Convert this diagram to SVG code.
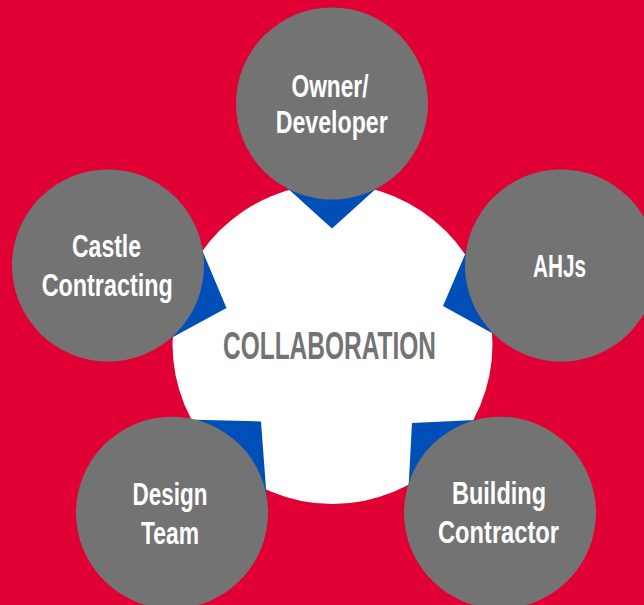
<svg xmlns="http://www.w3.org/2000/svg" xmlns:xlink="http://www.w3.org/1999/xlink" width="644" height="605" viewBox="0 0 644 605">
  <style>
    .bg { fill: #E00034; }
    .hub { fill: #FFFFFF; }
    .sat { fill: #737373; }
    .wedge { fill: #004EB8; }
    .lbl { font-family: "Liberation Sans Narrow", "Liberation Sans", Arial, sans-serif; font-weight: bold; text-anchor: middle; }
    .sat-lbl { fill: #FFFFFF; font-size: 30.5px; }
    .hub-lbl { fill: #737373; font-size: 39px; }
  </style>
  <defs>
    <!-- pointer: apex at origin pointing along +y, base tucked inside the satellite circle -->
    <polygon id="wedge" class="wedge" points="0,0 -63,-57 0,-125 63,-57"/>
  </defs>

  <rect class="bg" x="0" y="0" width="644" height="605"/>

  <g id="collaboration">
    <circle class="hub" cx="332.5" cy="344" r="160"/>
  </g>

  <g id="connectors">
    <use xlink:href="#wedge" transform="translate(332,228.5)"/>
    <use xlink:href="#wedge" transform="translate(226.5,308) rotate(-70.7)"/>
    <use xlink:href="#wedge" transform="translate(443,306) rotate(71)"/>
    <use xlink:href="#wedge" transform="translate(261,421.5) rotate(-136.4)"/>
    <use xlink:href="#wedge" transform="translate(412,423) rotate(135.2)"/>
  </g>

  <g id="collaboration-label">
    <text class="lbl hub-lbl" x="329.5" y="358.5" textLength="213" lengthAdjust="spacingAndGlyphs">COLLABORATION</text>
  </g>

  <g id="owner-developer">
    <circle class="sat" cx="332" cy="103.5" r="96"/>
    <text class="lbl sat-lbl" x="330" y="97" textLength="77" lengthAdjust="spacingAndGlyphs">Owner/</text>
    <text class="lbl sat-lbl" x="331.7" y="133" textLength="112" lengthAdjust="spacingAndGlyphs">Developer</text>
  </g>

  <g id="castle-contracting">
    <circle class="sat" cx="108" cy="265.5" r="96"/>
    <text class="lbl sat-lbl" x="106.5" y="257" textLength="69" lengthAdjust="spacingAndGlyphs">Castle</text>
    <text class="lbl sat-lbl" x="107.2" y="296" textLength="131" lengthAdjust="spacingAndGlyphs">Contracting</text>
  </g>

  <g id="ahjs">
    <circle class="sat" cx="561" cy="265.5" r="96"/>
    <text class="lbl sat-lbl" x="559.5" y="277" textLength="53" lengthAdjust="spacingAndGlyphs">AHJs</text>
  </g>

  <g id="design-team">
    <circle class="sat" cx="172" cy="512.7" r="96"/>
    <text class="lbl sat-lbl" x="170" y="505" textLength="75" lengthAdjust="spacingAndGlyphs">Design</text>
    <text class="lbl sat-lbl" x="170" y="544" textLength="58" lengthAdjust="spacingAndGlyphs">Team</text>
  </g>

  <g id="building-contractor">
    <circle class="sat" cx="500" cy="512.7" r="96"/>
    <text class="lbl sat-lbl" x="499" y="504" textLength="94" lengthAdjust="spacingAndGlyphs">Building</text>
    <text class="lbl sat-lbl" x="498.5" y="543" textLength="121" lengthAdjust="spacingAndGlyphs">Contractor</text>
  </g>
</svg>
